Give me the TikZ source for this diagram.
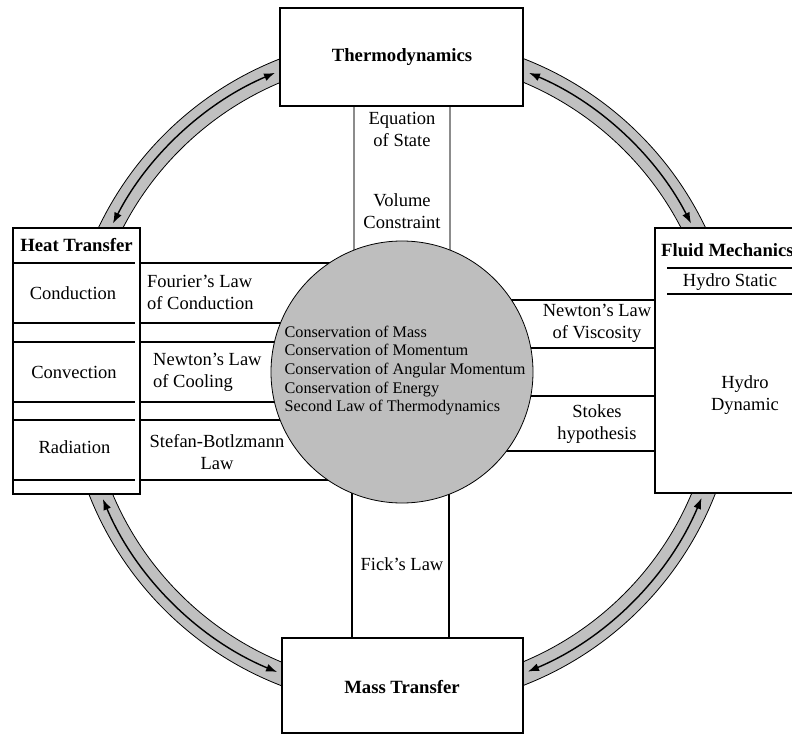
\documentclass[tikz,border=0pt]{standalone}
\usepackage{fontspec}
\setmainfont{Liberation Serif}
\usetikzlibrary{arrows.meta,calc}
\pgfdeclarelayer{bglayer}
\pgfdeclarelayer{ringlayer}
\pgfdeclarelayer{linklayer}
\pgfsetlayers{bglayer,ringlayer,linklayer,main}
\definecolor{bandgray}{RGB}{192,192,192}
\definecolor{circgray}{RGB}{190,190,190}
\definecolor{chgray}{RGB}{140,140,140}
\tikzset{
 boxnode/.style={draw=black,line width=1.2pt,fill=white,inner sep=0pt,rectangle},
 title/.style={font=\fontsize{18.7}{21}\selectfont\bfseries, inner sep=0pt},
 lbl/.style={font=\fontsize{18.5}{21.5}\selectfont, inner sep=0pt, align=center},
 lbll/.style={font=\fontsize{18.5}{21.5}\selectfont, inner sep=0pt, align=left},
 ctr/.style={font=\fontsize{16.2}{18.7}\selectfont, inner sep=0pt, align=left},
 link/.style={draw=black, line width=1.2pt},
 glink/.style={draw=chgray, line width=1.6pt},
 divider/.style={draw=black,line width=1.5pt},
 band/.style={fill=bandgray, draw=black, line width=0.8pt, even odd rule},
 flow/.style={draw=black, line width=1.4pt, {Latex[length=11pt,width=8pt]}-{Latex[length=11pt,width=8pt]}},
}
\begin{document}
\begin{tikzpicture}[x=1pt,y=-1pt]
\useasboundingbox (0,0) rectangle (792,735);
\begin{pgfonlayer}{bglayer}
\fill[white] (0,0) rectangle (792,735);
\end{pgfonlayer}

% central circle
\node[circle, draw=black, line width=0.8pt, fill=circgray, minimum size=262pt, inner sep=0pt] (core) at (402,372) {};
\node[ctr] (coretext) at (405,370.5) {Conservation of Mass\\Conservation of Momentum\\Conservation of Angular Momentum\\Conservation of Energy\\Second Law of Thermodynamics};

% boxes
\node[boxnode, minimum width=243pt, minimum height=98pt] (thermo) at (401.5,57) {};
\node[title] (thermot) at (402,57) {Thermodynamics};
\node[boxnode, minimum width=241pt, minimum height=95pt] (mass) at (402.5,685.5) {};
\node[title] (masst) at (402,687) {Mass Transfer};
\node[boxnode, minimum width=127pt, minimum height=266pt] (heat) at (76.5,361) {};
\node[title] (heatt) at (76.5,245) {Heat Transfer};
\node[boxnode, minimum width=145pt, minimum height=265pt] (fluid) at (727.5,360.5) {};
\node[title, anchor=west] (fluidt) at (661,250) {Fluid Mechanics};

% heat transfer internal dividers
\foreach \yy in {263,323,342,402,420,480} {
  \draw[divider] (13,\yy) -- (135,\yy);
}
\node[lbl] (cond) at (73,293) {Conduction};
\node[lbl] (conv) at (74,372) {Convection};
\node[lbl] (rad) at (74.5,447) {Radiation};

% fluid mechanics internal dividers
\draw[divider] (667,268) -- (800,268);
\draw[divider] (667,294) -- (800,294);
\node[lbl] (hstat) at (730,282) {Hydro Static};
\node[lbl] (hdyn) at (745,395) {Hydro\\Dynamic};

% channel labels
\node[lbl] (eos) at (402,129.5) {Equation\\of State};
\node[lbl] (vol) at (402,211) {Volume\\Constraint};
\node[lbl] (fick) at (402,564) {Fick's Law};
\node[lbll, anchor=west] (fourier) at (147,292.5) {Fourier's Law\\of Conduction};
\node[lbll, anchor=west] (cooling) at (153,372.5) {Newton's Law\\of Cooling};
\node[lbl] (stefan) at (217,452) {Stefan-Botlzmann\\Law};
\node[lbl] (visc) at (597,323.5) {Newton's Law\\of Viscosity};
\node[lbl] (stokes) at (597,424) {Stokes\\hypothesis};

% connectors (channels) behind circle
\begin{pgfonlayer}{linklayer}
  \foreach \yy in {263,323,342,402,420,480} {
    \draw[link] (heat.east |- 0,\yy) -- (core.center |- 0,\yy);
  }
  \foreach \yy in {300,348,396,451} {
    \draw[link] (core.center |- 0,\yy) -- (fluid.west |- 0,\yy);
  }
  \draw[glink] (354,0 |- thermo.south) -- (354,0 |- core.center);
  \draw[glink] (450,0 |- thermo.south) -- (450,0 |- core.center);
  \draw[link] (352,0 |- core.center) -- (352,0 |- mass.north);
  \draw[link] (449,0 |- core.center) -- (449,0 |- mass.north);
\end{pgfonlayer}

% ring with double arrows
\begin{pgfonlayer}{ringlayer}
  \path[band] (core.center) circle[radius=336pt] (core.center) circle[radius=314pt];
  \begin{scope}[shift={(core.center)}, y=1pt]
    \coordinate (a1) at (152.8:325pt);
    \coordinate (a2) at (67:325pt);
    \coordinate (a3) at (-22.8:325pt);
    \coordinate (a4) at (203:325pt);
    \draw[flow] (a1) arc[start angle=152.8, end angle=113, radius=325pt];
    \draw[flow] (a2) arc[start angle=67, end angle=27.2, radius=325pt];
    \draw[flow] (a3) arc[start angle=-22.8, end angle=-67.2, radius=325pt];
    \draw[flow] (a4) arc[start angle=203, end angle=247.4, radius=325pt];
  \end{scope}
\end{pgfonlayer}
\end{tikzpicture}
\end{document}
